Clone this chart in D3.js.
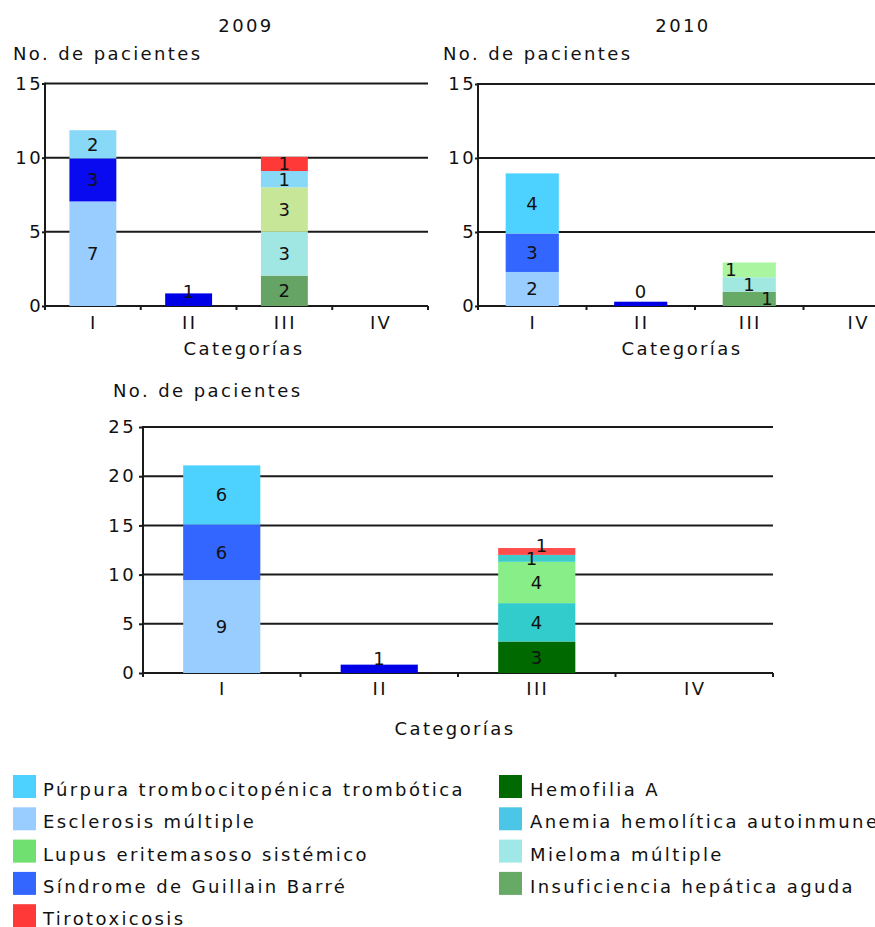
<!DOCTYPE html>
<html>
<head>
<meta charset="utf-8">
<script src="https://cdn.jsdelivr.net/npm/d3@7"></script>
<style>
  body { margin: 0; background: #fff; }
  svg text { font-family: "DejaVu Sans", Verdana, sans-serif; font-size: 18px; letter-spacing: 2.4px; fill: #111; }
</style>
</head>
<body>
<svg width="875" height="927"></svg>
<script>
const categories = ['I', 'II', 'III', 'IV']

const ESC = 'Esclerosis múltiple'
const SGB = 'Síndrome de Guillain Barré'
const IHA = 'Insuficiencia hepática aguda'
const MIE = 'Mieloma múltiple'
const LUP = 'Lupus eritemasoso sistémico'
const PTT = 'Púrpura trombocitopénica trombótica'
const TIR = 'Tirotoxicosis'
const HEM = 'Hemofilia A'
const AHA = 'Anemia hemolítica autoinmune'

// bottom to top
const stackOrderYear = [ESC, SGB, IHA, MIE, LUP, PTT, TIR]
const stackOrderTotal = [ESC, SGB, HEM, AHA, LUP, MIE, PTT, TIR]

// values per category I..IV
const esclerosis2009 = [7.05, 0, 0, 0]
const guillain2009 = [2.9, 0.85, 0, 0]
const insuficiencia2009 = [0, 0, 2.05, 0]
const mieloma2009 = [0, 0, 2.95, 0]
const lupus2009 = [0, 0, 3.0, 0]
const purpura2009 = [1.9, 0, 1.1, 0]
const tiro2009 = [0, 0, 0.95, 0]

const esclerosis2010 = [2.3, 0, 0, 0]
const guillain2010 = [2.6, 0.29, 0, 0]
const insuficiencia2010 = [0, 0, 0.97, 0]
const mieloma2010 = [0, 0, 0.97, 0]
const lupus2010 = [0, 0, 1.0, 0]
const purpura2010 = [4.06, 0, 0, 0]
const tiro2010 = [0, 0, 0, 0]

const esclerosisTotal = [9.45, 0, 0, 0]
const guillainTotal = [5.65, 0.85, 0, 0]
const purpuraTotal = [6.0, 0, 0, 0]
const hemofiliaTotal = [0, 0, 3.2, 0]
const anemiaTotal = [0, 0, 3.9, 0]
const lupusTotal = [0, 0, 4.2, 0]
const mielomaTotal = [0, 0, 0.7, 0]
const tiroTotal = [0, 0, 0.7, 0]

const legendLeft = [PTT, ESC, LUP, SGB, TIR]
const legendRight = [HEM, AHA, MIE, IHA]

const legendColor = {
  [PTT]: '#4dd2ff', [ESC]: '#99ccff', [LUP]: '#70e070', [SGB]: '#3366ff', [TIR]: '#ff3838',
  [HEM]: '#006a00', [AHA]: '#4cc6e6', [MIE]: '#a0e8e8', [IHA]: '#66aa66'
}

const svg = d3.select('svg')

const table = (keys, cols) => categories.map((c, i) => {
  const row = { cat: c }
  keys.forEach(k => { row[k] = cols[k] ? cols[k][i] : 0 })
  return row
})

const charts = [
  {
    title: '2009', max: 15, keys: stackOrderYear,
    rows: table(stackOrderYear, { [ESC]: esclerosis2009, [SGB]: guillain2009, [IHA]: insuficiencia2009, [MIE]: mieloma2009, [LUP]: lupus2009, [PTT]: purpura2009, [TIR]: tiro2009 }),
    colors: { [ESC]: '#99ccff', [SGB]: '#0a0af0', [IHA]: '#66a466', [MIE]: '#a0e6e2', [LUP]: '#c8e698', [PTT]: '#88d8f8', [TIR]: '#ff3838' },
    x0: 45, x1: 428, yTop: 83.5, y0: 306, titleX: 246, yLabelX: 13, yLabelY: 60, xLabelX: 244, xLabelY: 355, tickY: 329, tick: 3, pad: -1
  },
  {
    title: '2010', max: 15, keys: stackOrderYear,
    rows: table(stackOrderYear, { [ESC]: esclerosis2010, [SGB]: guillain2010, [IHA]: insuficiencia2010, [MIE]: mieloma2010, [LUP]: lupus2010, [PTT]: purpura2010, [TIR]: tiro2010 }),
    colors: { [ESC]: '#99ccff', [SGB]: '#3366ff', [IHA]: '#66aa66', [MIE]: '#a0e8e0', [LUP]: '#aaf5a0', [PTT]: '#4dd2ff', [TIR]: '#ff3838' },
    x0: 478, x1: 912, yTop: 84, y0: 306, titleX: 683, yLabelX: 443, yLabelY: 60, xLabelX: 682, xLabelY: 355, tickY: 329, tick: 3, pad: -1
  },
  {
    title: null, max: 25, keys: stackOrderTotal,
    rows: table(stackOrderTotal, { [ESC]: esclerosisTotal, [SGB]: guillainTotal, [PTT]: purpuraTotal, [HEM]: hemofiliaTotal, [AHA]: anemiaTotal, [LUP]: lupusTotal, [MIE]: mielomaTotal, [TIR]: tiroTotal }),
    colors: { [ESC]: '#99ccff', [SGB]: '#3366ff', [PTT]: '#4dd2ff', [HEM]: '#006a00', [AHA]: '#33cccc', [LUP]: '#88ee88', [MIE]: '#3ccccc', [TIR]: '#ff4d4d' },
    x0: 143, x1: 773, yTop: 427, y0: 673, titleX: 0, yLabelX: 113, yLabelY: 397, xLabelX: 455, xLabelY: 735, tickY: 695, tick: 4, pad: 3
  }
]

const categoryIIColor = '#0000e6'

const drawChart = c => {
  const g = svg.append('g')

  const x = d3.scaleBand()
    .domain(categories)
    .range([c.x0, c.x1])
    .paddingInner(0.51)
    .paddingOuter(0.255)

  const y = d3.scaleLinear()
    .domain([0, c.max])
    .range([c.y0, c.yTop])

  const ticks = d3.range(0, c.max + 1, 5)

  // gridlines behind bars
  g.append('g').selectAll('line').data(ticks)
    .enter().append('line')
    .attr('x1', c.x0).attr('x2', c.x1)
    .attr('y1', d => y(d)).attr('y2', d => y(d))
    .attr('stroke', '#1a1a1a').attr('stroke-width', 2)

  const series = d3.stack().keys(c.keys)(c.rows)

  const segs = []
  series.forEach(s => {
    s.forEach(d => {
      if (d[1] - d[0] > 0) segs.push({ key: s.key, cat: d.data.cat, lo: d[0], hi: d[1] })
    })
  })

  g.append('g').selectAll('rect').data(segs)
    .enter().append('rect')
    .attr('x', d => x(d.cat))
    .attr('width', x.bandwidth())
    .attr('y', d => y(d.hi))
    .attr('height', d => y(d.lo) - y(d.hi))
    .attr('fill', d => d.cat === 'II' ? categoryIIColor : c.colors[d.key])

  // value labels; thin stacked segments get pushed apart
  const byCat = d3.group(segs, d => d.cat)
  const labels = []
  byCat.forEach(list => {
    const small = list.filter(d => y(d.lo) - y(d.hi) < 15.5)
    const n = small.length
    list.forEach(d => {
      let lx = x(d.cat) + x.bandwidth() / 2
      let ly = (y(d.lo) + y(d.hi)) / 2
      if (list.length === 1) {
        ly = Math.min(ly, y(0) - 14)
      } else if (n > 1 && small.includes(d)) {
        const k = small.indexOf(d)
        lx += n > 2 ? ((n - 1) / 2 - k) * 18 : (k - (n - 1) / 2) * 10
        if (k > 0) ly = Math.min(ly, labels[labels.length - 1].ly - 13)
      }
      labels.push({ lx, ly, text: Math.round(d.hi - d.lo) })
    })
  })

  g.append('g').selectAll('text').data(labels)
    .enter().append('text')
    .attr('x', d => d.lx + 1)
    .attr('y', d => d.ly)
    .attr('dy', '0.36em')
    .attr('text-anchor', 'middle')
    .text(d => d.text)

  // y axis
  const yAxis = g.append('g')
    .attr('transform', `translate(${c.x0},0)`)
    .call(d3.axisLeft(y).tickValues(ticks).tickSize(c.tick).tickPadding(c.pad))
  yAxis.select('.domain').remove()
  yAxis.selectAll('.tick line').attr('stroke', '#1a1a1a').attr('stroke-width', 2)

  g.append('line')
    .attr('x1', c.x0).attr('x2', c.x0)
    .attr('y1', c.y0 + 1).attr('y2', c.yTop - 1)
    .attr('stroke', '#1a1a1a').attr('stroke-width', 2)

  // x axis: labels centred, tick marks on band edges
  const xAxis = g.append('g')
    .attr('transform', `translate(0,${c.y0})`)
    .call(d3.axisBottom(x).tickSize(0).tickPadding(c.tickY - c.y0 - 13))
  xAxis.select('.domain').remove()
  xAxis.selectAll('text').attr('dx', 1)

  const step = x.step()
  g.append('g').selectAll('line').data(d3.range(categories.length + 1))
    .enter().append('line')
    .attr('x1', i => c.x0 + i * step).attr('x2', i => c.x0 + i * step)
    .attr('y1', c.y0).attr('y2', c.y0 + 4)
    .attr('stroke', '#1a1a1a').attr('stroke-width', 2)

  if (c.title) {
    g.append('text')
      .attr('x', c.titleX).attr('y', 32)
      .attr('text-anchor', 'middle')
      .text(c.title)
  }

  g.append('text')
    .attr('x', c.yLabelX).attr('y', c.yLabelY)
    .text('No. de pacientes')

  g.append('text')
    .attr('x', c.xLabelX).attr('y', c.xLabelY)
    .attr('text-anchor', 'middle')
    .text('Categorías')
}

charts.forEach(drawChart)

// legend
const legend = (names, sx, tx) => {
  const rows = svg.append('g').selectAll('g').data(names)
    .enter().append('g')
    .attr('transform', (d, i) => `translate(0,${775 + i * 32.3})`)
  rows.append('rect')
    .attr('x', sx).attr('width', 23).attr('height', 23)
    .attr('fill', d => legendColor[d])
  rows.append('text')
    .attr('x', tx).attr('y', 21)
    .text(d => d)
}

legend(legendLeft, 13, 43)
legend(legendRight, 499, 530)
</script>
</body>
</html>
